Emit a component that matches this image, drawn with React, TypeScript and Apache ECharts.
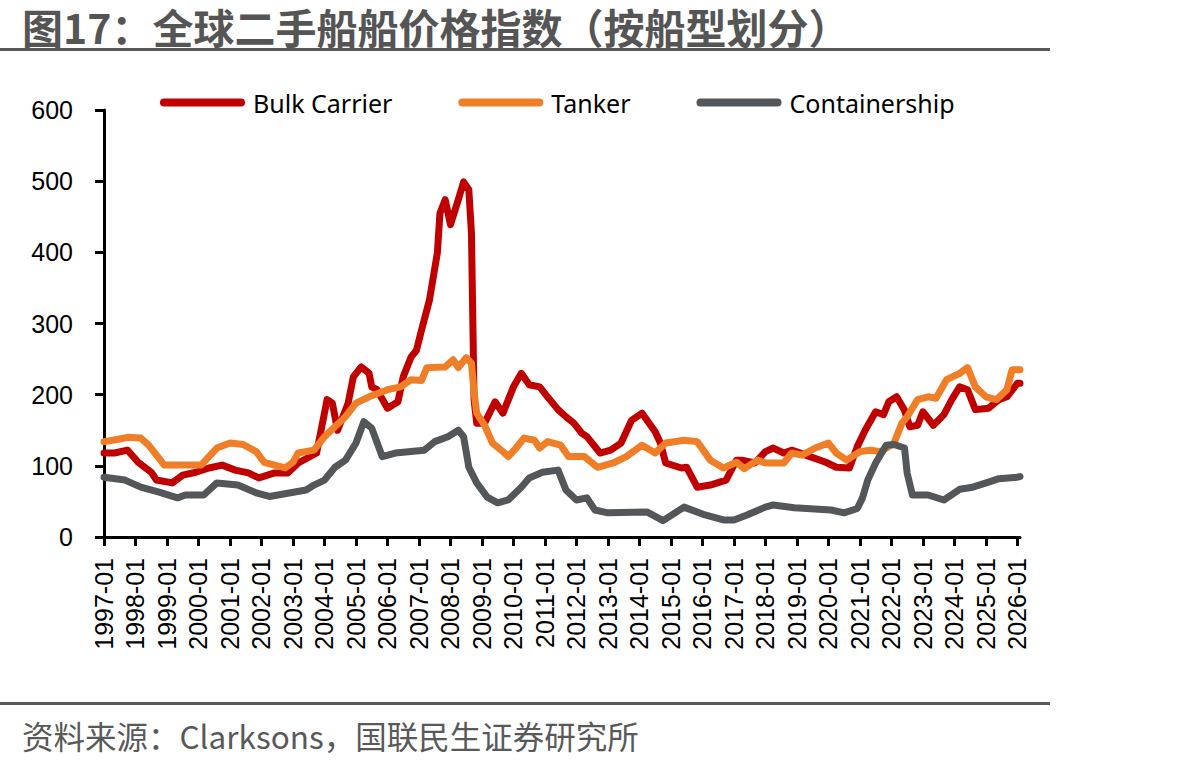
import React, { useEffect, useRef } from "react";
import * as echarts from "echarts";

const START_YEAR = 1997;
const LAST_MONTH = "2026-02";

const seriesNames = ["Bulk Carrier", "Tanker", "Containership"];
const seriesColors = ["#C00000", "#F07E26", "#53575A"];

const bulkCarrier: [string, number][] = [
  ["1997-01", 118], ["1997-05", 118], ["1997-10", 122], ["1998-02", 105], ["1998-07", 91],
  ["1998-09", 80], ["1999-03", 76], ["1999-07", 87], ["1999-12", 91], ["2000-05", 97],
  ["2000-10", 101], ["2001-03", 94], ["2001-08", 90], ["2001-12", 83], ["2002-06", 90],
  ["2002-11", 90], ["2003-03", 104], ["2003-10", 118], ["2004-02", 193], ["2004-04", 188],
  ["2004-06", 150], ["2004-08", 169], ["2004-10", 188], ["2004-12", 225], ["2005-03", 239],
  ["2005-06", 230], ["2005-07", 211], ["2005-09", 207], ["2006-01", 181], ["2006-05", 190],
  ["2006-07", 225], ["2006-10", 253], ["2006-12", 262], ["2007-02", 291], ["2007-05", 333],
  ["2007-08", 399], ["2007-09", 455], ["2007-11", 474], ["2008-01", 439], ["2008-04", 474],
  ["2008-06", 499], ["2008-08", 488], ["2008-09", 427], ["2008-10", 193], ["2008-11", 160],
  ["2009-02", 160], ["2009-06", 190], ["2009-09", 174], ["2010-01", 211], ["2010-04", 230],
  ["2010-07", 214], ["2010-11", 211], ["2011-02", 197], ["2011-06", 179], ["2011-09", 169],
  ["2011-12", 160], ["2012-03", 146], ["2012-05", 141], ["2012-10", 118], ["2013-02", 122],
  ["2013-06", 132], ["2013-10", 164], ["2014-02", 174], ["2014-07", 148], ["2014-09", 132],
  ["2014-11", 104], ["2015-05", 97], ["2015-07", 98], ["2015-11", 70], ["2016-04", 73],
  ["2016-10", 80], ["2017-02", 108], ["2017-04", 108], ["2017-09", 104], ["2018-01", 120],
  ["2018-04", 125], ["2018-08", 118], ["2018-11", 122], ["2019-06", 113], ["2019-12", 105],
  ["2020-04", 98], ["2020-09", 97], ["2020-12", 127], ["2021-03", 150], ["2021-07", 176],
  ["2021-10", 172], ["2021-12", 190], ["2022-03", 197], ["2022-06", 178], ["2022-08", 155],
  ["2022-11", 157], ["2023-01", 176], ["2023-05", 157], ["2023-09", 172], ["2023-12", 193],
  ["2024-03", 211], ["2024-06", 207], ["2024-09", 179], ["2025-02", 181], ["2025-06", 193],
  ["2025-09", 197], ["2026-01", 216], ["2026-02", 216],
];

const tanker: [string, number][] = [
  ["1997-01", 134], ["1997-06", 137], ["1997-10", 140], ["1998-03", 139], ["1998-06", 129],
  ["1998-12", 101], ["1999-07", 101], ["2000-02", 101], ["2000-05", 113], ["2000-08", 125],
  ["2001-01", 132], ["2001-06", 130], ["2001-11", 120], ["2002-02", 105], ["2002-10", 97],
  ["2003-01", 105], ["2003-03", 118], ["2003-09", 122], ["2004-01", 141], ["2004-05", 155],
  ["2004-09", 169], ["2005-01", 188], ["2005-06", 197], ["2006-01", 207], ["2006-06", 211],
  ["2006-10", 221], ["2007-02", 220], ["2007-04", 238], ["2007-11", 239], ["2008-02", 249],
  ["2008-04", 238], ["2008-07", 252], ["2008-09", 244], ["2008-10", 203], ["2008-11", 174],
  ["2009-02", 157], ["2009-05", 132], ["2009-09", 120], ["2009-11", 113], ["2010-02", 125],
  ["2010-05", 139], ["2010-09", 136], ["2010-11", 125], ["2011-02", 134], ["2011-07", 129],
  ["2011-10", 113], ["2012-04", 113], ["2012-09", 98], ["2013-03", 104], ["2013-08", 113],
  ["2014-02", 129], ["2014-07", 118], ["2014-11", 132], ["2015-06", 136], ["2015-11", 134],
  ["2016-04", 108], ["2016-09", 97], ["2017-02", 105], ["2017-05", 96], ["2017-10", 108],
  ["2018-01", 104], ["2018-08", 104], ["2018-11", 118], ["2019-03", 115], ["2019-08", 125],
  ["2020-01", 132], ["2020-04", 118], ["2020-08", 108], ["2021-01", 120], ["2021-05", 122],
  ["2021-09", 120], ["2022-02", 132], ["2022-05", 160], ["2022-07", 169], ["2022-11", 193],
  ["2023-03", 197], ["2023-06", 195], ["2023-10", 221], ["2024-03", 230], ["2024-06", 238],
  ["2024-09", 211], ["2025-01", 197], ["2025-05", 193], ["2025-09", 207], ["2025-11", 235],
  ["2026-02", 235],
];

const containership: [string, number][] = [
  ["1997-01", 84], ["1997-09", 80], ["1998-03", 70], ["1998-10", 63], ["1999-05", 55],
  ["1999-08", 59], ["2000-03", 59], ["2000-08", 76], ["2001-04", 73], ["2001-11", 62],
  ["2002-04", 57], ["2003-06", 66], ["2003-09", 73], ["2004-01", 80], ["2004-05", 98],
  ["2004-09", 108], ["2005-01", 132], ["2005-04", 162], ["2005-07", 153], ["2005-11", 113],
  ["2006-04", 118], ["2007-03", 122], ["2007-07", 134], ["2007-12", 141], ["2008-04", 150],
  ["2008-06", 141], ["2008-08", 98], ["2008-11", 76], ["2009-03", 56], ["2009-07", 48],
  ["2009-11", 52], ["2010-04", 70], ["2010-07", 83], ["2010-12", 91], ["2011-06", 94],
  ["2011-09", 66], ["2012-01", 52], ["2012-05", 55], ["2012-08", 38], ["2013-01", 34],
  ["2014-04", 35], ["2014-10", 23], ["2015-06", 42], ["2016-02", 31], ["2016-09", 24],
  ["2017-01", 24], ["2017-06", 31], ["2018-01", 42], ["2018-04", 45], ["2018-12", 41],
  ["2020-02", 38], ["2020-07", 34], ["2020-12", 40], ["2021-02", 55], ["2021-04", 80],
  ["2021-07", 104], ["2021-11", 129], ["2022-02", 130], ["2022-06", 125], ["2022-07", 90],
  ["2022-09", 59], ["2023-03", 59], ["2023-09", 52], ["2024-03", 67], ["2024-08", 70],
  ["2025-02", 77], ["2025-06", 82], ["2026-01", 84], ["2026-02", 85],
];

const yTicks = [0, 100, 200, 300, 400, 500, 600];

const titleText = "图17：全球二手船船价格指数（按船型划分）";
const sourceText = "资料来源：Clarksons，国联民生证券研究所";

function monthIndex(d: string): number {
  const [y, m] = d.split("-").map(Number);
  return (y - START_YEAR) * 12 + (m - 1);
}

function monthLabel(idx: number): string {
  const y = START_YEAR + Math.floor(idx / 12);
  const m = (idx % 12) + 1;
  return `${y}-${m < 10 ? "0" + m : m}`;
}

export default function App() {
  const ref = useRef<HTMLDivElement>(null);

  useEffect(() => {
    if (!ref.current) return;
    const chart = echarts.init(ref.current, undefined, { renderer: "svg" });
    const all = [bulkCarrier, tanker, containership];
    const legendIcon = "path://M4,0 H81 A4,4 0 0 1 81,8 H4 A4,4 0 0 1 4,0 Z";
    chart.setOption({
      animation: false,
      backgroundColor: "#fff",
      textStyle: { fontFamily: "Noto Sans" },
      grid: { left: 104, top: 110, width: 916, height: 427, containLabel: false },
      legend: {
        left: 160,
        top: 90,
        padding: 0,
        itemWidth: 85,
        itemHeight: 8,
        itemGap: 66,
        icon: legendIcon,
        textStyle: { fontSize: 25, color: "#000", fontFamily: "Noto Sans", padding: [0, 0, 0, 3] },
        data: seriesNames.map((n, i) => ({ name: n, itemStyle: { color: seriesColors[i] } })),
      },
      xAxis: {
        type: "value",
        min: 0,
        max: monthIndex(LAST_MONTH),
        interval: 12,
        axisLine: { show: true, lineStyle: { color: "#000", width: 3 } },
        axisTick: { show: true, length: 9, lineStyle: { color: "#000", width: 3 } },
        splitLine: { show: false },
        axisLabel: {
          rotate: 90,
          margin: 21,
          fontSize: 25,
          color: "#000",
          fontFamily: "Liberation Sans",
          showMaxLabel: false,
          formatter: (v: number) => (v % 12 === 0 ? monthLabel(v) : ""),
        },
      },
      yAxis: {
        type: "value",
        min: yTicks[0],
        max: yTicks[yTicks.length - 1],
        interval: 100,
        axisLine: { show: true, lineStyle: { color: "#000", width: 3 } },
        axisTick: { show: true, length: 9, lineStyle: { color: "#000", width: 3 } },
        splitLine: { show: false },
        axisLabel: { fontSize: 25, color: "#000", margin: 31, fontFamily: "Liberation Sans" },
      },
      series: all.map((s, i) => ({
        name: seriesNames[i],
        type: "line",
        symbol: "none",
        showSymbol: false,
        smooth: false,
        color: seriesColors[i],
        lineStyle: { width: 7, color: seriesColors[i], join: "round", cap: "round" },
        data: s.map(([d, v]) => [monthIndex(d), v]),
      })),
      graphic: [
        {
          type: "text",
          x: 22,
          y: 26,
          style: {
            text: titleText,
            fontSize: 41,
            fontWeight: "bold",
            fontFamily: "Noto Sans CJK SC",
            verticalAlign: "middle",
            align: "left",
            fill: "#555555",
          },
        },
        { type: "rect", shape: { x: 0, y: 48, width: 1050, height: 3 }, style: { fill: "#595959" } },
        { type: "rect", shape: { x: 0, y: 702, width: 1050, height: 3 }, style: { fill: "#595959" } },
        {
          type: "text",
          x: 22,
          y: 735,
          style: {
            text: sourceText,
            fontSize: 31.5,
            fontFamily: "Noto Sans CJK SC",
            verticalAlign: "middle",
            align: "left",
            fill: "#595959",
          },
        },
      ],
    });
    return () => chart.dispose();
  }, []);

  return (
    <div
      ref={ref}
      style={{ position: "fixed", left: 0, top: 0, width: 1199, height: 765, background: "#fff" }}
    />
  );
}
